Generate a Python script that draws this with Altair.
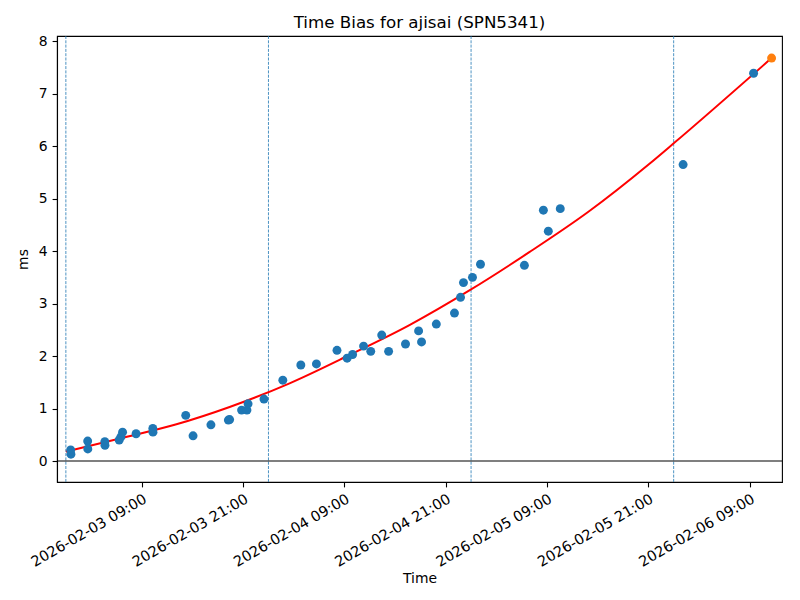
import altair as alt
import pandas as pd

# Observed time bias points (ms)
obs_times = [
    "2026-02-03T00:34", "2026-02-03T00:36", "2026-02-03T02:35", "2026-02-03T02:36",
    "2026-02-03T04:37", "2026-02-03T04:38", "2026-02-03T06:19", "2026-02-03T06:31",
    "2026-02-03T06:43", "2026-02-03T08:19", "2026-02-03T10:18", "2026-02-03T10:19",
    "2026-02-03T14:12", "2026-02-03T15:04", "2026-02-03T17:11", "2026-02-03T19:15",
    "2026-02-03T19:24", "2026-02-03T20:49", "2026-02-03T21:27", "2026-02-03T21:35",
    "2026-02-03T23:28", "2026-02-04T01:42", "2026-02-04T03:50", "2026-02-04T05:41",
    "2026-02-04T08:07", "2026-02-04T09:19", "2026-02-04T09:58", "2026-02-04T11:16",
    "2026-02-04T12:07", "2026-02-04T13:25", "2026-02-04T14:14", "2026-02-04T16:14",
    "2026-02-04T17:47", "2026-02-04T18:08", "2026-02-04T19:53", "2026-02-04T22:02",
    "2026-02-04T22:45", "2026-02-04T23:06", "2026-02-05T00:10", "2026-02-05T01:07",
    "2026-02-05T06:19", "2026-02-05T08:34", "2026-02-05T09:09", "2026-02-05T10:34",
    "2026-02-06T01:07", "2026-02-06T09:28",
]
obs_values = [
    0.21, 0.13, 0.38, 0.23,
    0.37, 0.30, 0.40, 0.46,
    0.55, 0.52, 0.62, 0.55,
    0.87, 0.48, 0.69, 0.78,
    0.79, 0.97, 0.97, 1.09,
    1.18, 1.54, 1.83, 1.85,
    2.11, 1.96, 2.03, 2.19,
    2.09, 2.40, 2.09, 2.23,
    2.48, 2.27, 2.61, 2.82,
    3.12, 3.40, 3.50, 3.75,
    3.73, 4.78, 4.38, 4.81,
    5.65, 7.39,
]

# Predicted point
pred_times = ["2026-02-06T11:36"]
pred_values = [7.68]

# Fitted curve
fit_times = [
    "2026-02-03T00:00", "2026-02-03T06:24", "2026-02-03T13:06", "2026-02-03T19:24",
    "2026-02-04T02:30", "2026-02-04T09:36", "2026-02-04T16:42", "2026-02-04T23:54",
    "2026-02-05T06:54", "2026-02-05T13:54", "2026-02-05T21:06", "2026-02-05T23:54",
    "2026-02-06T11:36",
]
fit_values = [
    0.18, 0.43, 0.70, 1.03,
    1.48, 2.02, 2.59, 3.26,
    3.98, 4.75, 5.66, 6.04,
    7.68,
]

# Day boundaries (dashed vertical lines)
day_lines = ["2026-02-03T00:00", "2026-02-04T00:00", "2026-02-05T00:00", "2026-02-06T00:00"]

# Tick positions
tick_days = [3, 3, 4, 4, 5, 5, 6]
tick_hours = [9, 21, 9, 21, 9, 21, 9]
y_ticks = [0, 1, 2, 3, 4, 5, 6, 7, 8]

obs = pd.DataFrame({"t": obs_times, "v": obs_values})
pred = pd.DataFrame({"t": pred_times, "v": pred_values})
fit = pd.DataFrame({"t": fit_times, "v": fit_values})
days = pd.DataFrame({"t": day_lines})
zero = pd.DataFrame({"v": [0]})

FONT = "DejaVu Sans"

x_scale = alt.Scale(
    domain=[
        alt.DateTime(year=2026, month=2, date=2, hours=22, minutes=57),
        alt.DateTime(year=2026, month=2, date=6, hours=12, minutes=50),
    ]
)
y_scale = alt.Scale(domain=[-0.4, 8.1], nice=False, zero=False)

x_axis = alt.Axis(
    title="Time",
    values=[alt.DateTime(year=2026, month=2, date=d, hours=h) for d, h in zip(tick_days, tick_hours)],
    format="%Y-%m-%d %H:%M",
    labelAngle=330,
    labelAlign="right",
    labelBaseline="top",
    grid=False,
    labelFlush=False,
    labelOverlap=False,
    labelFontSize=14.5,
)
y_axis = alt.Axis(title="ms", values=y_ticks, format="d", grid=False)

X = alt.X("t:T", scale=x_scale, axis=x_axis)
Y = alt.Y("v:Q", scale=y_scale, axis=y_axis)

vlines = alt.Chart(days).mark_rule(
    color="#1f77b4", strokeWidth=0.8, strokeDash=[3, 1.3]
).encode(x=alt.X("t:T", scale=x_scale, axis=x_axis))

hline = alt.Chart(zero).mark_rule(color="black", strokeWidth=1.1).encode(
    y=alt.Y("v:Q", scale=y_scale, axis=y_axis)
)

curve = alt.Chart(fit).mark_line(color="red", strokeWidth=2, interpolate="monotone", clip=True).encode(x=X, y=Y)

points = alt.Chart(obs).mark_circle(color="#1f77b4", size=80, opacity=1).encode(x=X, y=Y)

predp = alt.Chart(pred).mark_circle(color="#ff7f0e", size=80, opacity=1).encode(x=X, y=Y)

chart = (
    alt.layer(vlines, hline, curve, points, predp)
    .properties(
        width=725,
        height=446,
        title=alt.TitleParams("Time Bias for ajisai (SPN5341)", fontSize=16.7, font=FONT, fontWeight="normal", offset=3),
        autosize=alt.AutoSizeParams(type="none"),
        padding={"left": 49, "top": 28, "right": 10, "bottom": 110},
    )
    .configure_view(stroke="black", strokeWidth=1.1)
    .configure_axis(
        labelFont=FONT,
        titleFont=FONT,
        labelFontSize=13.9,
        titleFontSize=13.9,
        titleFontWeight="normal",
        labelColor="black",
        titleColor="black",
        domainColor="black",
        tickColor="black",
        tickSize=4.9,
        tickWidth=1.1,
        labelPadding=4.9,
        domainWidth=1.1,
    )
    .configure_axisX(titlePadding=3)
    .configure_axisY(titlePadding=8)
)

chart.save("out.html", embed_options={"renderer": "svg", "actions": False})
